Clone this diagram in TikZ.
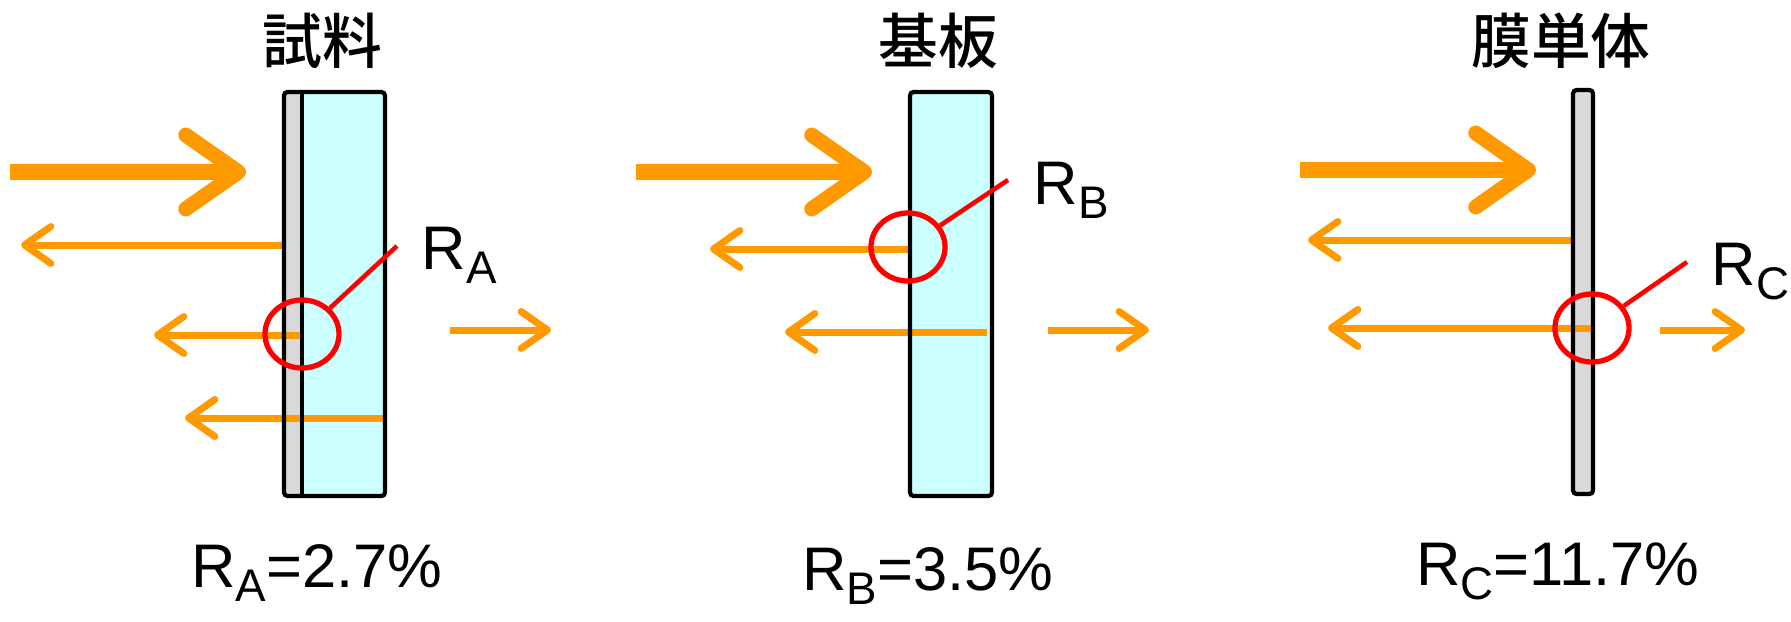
\documentclass[tikz,border=0pt]{standalone}
\usepackage{fontspec}
\setmainfont{Liberation Sans}
\newfontfamily\jpfont{Noto Sans CJK JP Medium}
\usetikzlibrary{arrows.meta,shapes.geometric}
\newcommand{\Rsub}[1]{R\raisebox{-4pt}{\fontsize{13}{13}\selectfont #1}}

\begin{document}
\begin{tikzpicture}[x=0.01cm,y=-0.01cm,
  beam/.style={draw=cOr,line width=0.15cm,-{Straight Barb[length=15pt,width=21pt,round]}},
  refl/.style={draw=cOr,line width=0.07cm,-{Straight Barb[length=7.5pt,width=10.5pt,round]}},
  ring/.style={draw=cR,line width=1.5pt,ellipse,minimum width=0.74cm,minimum height=0.68cm,inner sep=0pt},
  lead/.style={cR,line width=1.3pt},
  plate/.style={draw=black,line width=1.2pt,rounded corners=1pt},
  title/.style={anchor=base,inner sep=0pt,font=\jpfont\fontsize{17}{17}\selectfont},
  rlab/.style={anchor=base west,inner sep=0pt,font=\fontsize{17.5}{17.5}\selectfont},
  val/.style={anchor=base,inner sep=0pt,font=\fontsize{17.5}{17.5}\selectfont}]
\definecolor{cOr}{RGB}{255,153,0}\definecolor{cR}{RGB}{255,0,0}
\definecolor{cCy}{RGB}{204,255,255}\definecolor{cGy}{RGB}{217,217,217}
\useasboundingbox[fill=white] (0,0) rectangle (1791,621);
% sample: film on substrate
\begin{scope}
\fill[cGy] (284,92) rectangle (302,496);
\fill[cCy] (302,92) rectangle (385,496);
\draw[beam] (10,172) -- (246,172);
\draw[refl] (284,245) -- (21,245);
\draw[refl] (300,335) -- (154,335);
\draw[refl] (385,418) -- (185,418);
\draw[refl] (450,330) -- (551,330);
\draw[plate] (284,92) rectangle (385,496);
\draw[line width=1.2pt] (302,92) -- (302,496);
\node[ring] (cA) at (302,334) {};
\coordinate (tA) at (397,246);
\draw[lead] (cA) -- (tA);
\node[rlab] (lA) at (421,269) {\Rsub{A}};
\node[title] (hA) at (322,63) {試料};
\node[val] (vA) at (317,587) {\Rsub{A}=2.7\%};
\end{scope}
% substrate only
\begin{scope}
\fill[cCy] (910,92) rectangle (992,496);
\draw[beam] (636,172) -- (872,172);
\draw[refl] (910,249) -- (710,249);
\draw[refl] (987,332) -- (785,332);
\draw[refl] (1048,330) -- (1149,330);
\draw[plate] (910,92) rectangle (992,496);
\node[ring] (cB) at (908,247) {};
\coordinate (tB) at (1008,180);
\draw[lead] (cB) -- (tB);
\node[rlab] (lB) at (1033,204) {\Rsub{B}};
\node[title] (hB) at (938,63) {基板};
\node[val] (vB) at (928,590) {\Rsub{B}=3.5\%};
\end{scope}
% film only
\begin{scope}
\fill[cGy] (1573,90) rectangle (1593,494);
\draw[beam] (1300,170) -- (1536,170);
\draw[refl] (1571,240) -- (1308,240);
\draw[refl] (1591,328) -- (1328,328);
\draw[refl] (1660,330) -- (1745,330);
\draw[plate] (1573,90) rectangle (1593,494);
\node[ring] (cC) at (1592,328) {};
\coordinate (tC) at (1687,262);
\draw[lead] (cC) -- (tC);
\node[rlab] (lC) at (1711,285) {\Rsub{C}};
\node[title] (hC) at (1561,63) {膜単体};
\node[val] (vC) at (1558,585) {\Rsub{C}=11.7\%};
\end{scope}
\end{tikzpicture}
\end{document}
